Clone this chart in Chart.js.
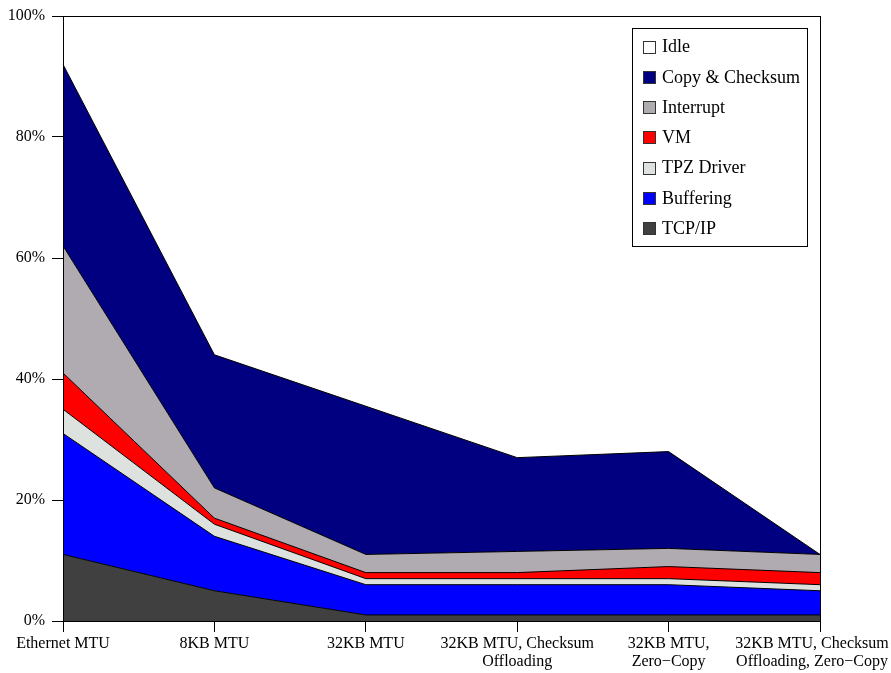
<!DOCTYPE html>
<html>
<head>
<meta charset="utf-8">
<script src="https://cdn.jsdelivr.net/npm/chart.js@4.4.1/dist/chart.umd.min.js"></script>
<style>
  html, body { margin: 0; padding: 0; background: #fff; }
  #wrap { width: 891px; height: 673px; }
</style>
</head>
<body>
<div id="wrap"><canvas id="chart" width="891" height="673"></canvas></div>
<script>
// configurations on the x axis (multi-line labels)
// last one gets trailing en-spaces so it stays inside the canvas like the original
const categories = [
  ["Ethernet MTU"],
  ["8KB MTU"],
  ["32KB MTU"],
  ["32KB MTU, Checksum", "Offloading"],
  ["32KB MTU,", "Zero\u2212Copy"],
  ["32KB MTU, Checksum\u2002\u2002", "Offloading, Zero\u2212Copy\u2002\u2002"],
];

// per-component CPU share (%), stacked bottom-up
const tcpIp = [11, 5, 1, 1, 1, 1];
const buffering = [20, 9, 5, 5, 5, 4];
const tpzDriver = [4, 2, 1, 1, 1, 1];
const vm = [6, 1, 1, 1, 2, 2];
const interrupt = [21, 5, 3, 3.5, 3, 3];
const copyChecksum = [30, 22, 24.5, 15.5, 16, 0];
const idle = [8, 56, 64.5, 73, 72, 89];

const yTicks = [0, 20, 40, 60, 80, 100];

const FONT = "'Liberation Serif', 'Times New Roman', serif";

function layer(label, data, color, fill) {
  return {
    label,
    data,
    backgroundColor: color,
    borderColor: "#000",
    borderWidth: 1,
    pointRadius: 0,
    tension: 0,
    fill,
  };
}

const datasets = [
  layer("TCP/IP", tcpIp, "#404040", "origin"),
  layer("Buffering", buffering, "#0000ff", "-1"),
  layer("TPZ Driver", tpzDriver, "#dde2df", "-1"),
  layer("VM", vm, "#ff0000", "-1"),
  layer("Interrupt", interrupt, "#b0abb0", "-1"),
  layer("Copy & Checksum", copyChecksum, "#000080", "-1"),
  layer("Idle", idle, "#ffffff", "-1"),
];

// frame around the plot + boxed legend in the top-right corner
const frameAndLegend = {
  id: "frameAndLegend",
  afterDraw(chart) {
    const { ctx, chartArea: a } = chart;
    ctx.save();
    ctx.strokeStyle = "#000";
    ctx.lineWidth = 1;
    ctx.strokeRect(Math.round(a.left) + 0.5, Math.round(a.top) + 0.5,
      Math.round(a.right - a.left), Math.round(a.bottom - a.top));

    const items = chart.data.datasets.slice().reverse();
    const boxRight = a.right - 13;
    const boxLeft = boxRight - 175;
    const boxTop = a.top + 12;
    const rowH = 30.3;
    ctx.fillStyle = "#fff";
    ctx.fillRect(boxLeft, boxTop, 175, 218);
    ctx.strokeRect(boxLeft + 0.5, boxTop + 0.5, 175, 218);

    ctx.font = "18px " + FONT;
    ctx.textBaseline = "middle";
    items.forEach((ds, i) => {
      const cy = boxTop + 18.5 + i * rowH;
      ctx.fillStyle = ds.backgroundColor;
      ctx.fillRect(boxLeft + 11.5, Math.round(cy - 6) + 0.5, 12, 12);
      ctx.strokeStyle = "#333";
      ctx.strokeRect(boxLeft + 11.5, Math.round(cy - 6) + 0.5, 12, 12);
      ctx.fillStyle = "#000";
      ctx.fillText(ds.label, boxLeft + 30, cy + 1);
    });
    ctx.restore();
  },
};

new Chart(document.getElementById("chart"), {
  type: "line",
  data: { labels: categories, datasets },
  plugins: [frameAndLegend],
  options: {
    responsive: false,
    animation: false,
    layout: { padding: { top: 16, right: 71, left: 0, bottom: 0 } },
    plugins: {
      legend: { display: false },
      tooltip: { enabled: false },
      filler: { propagate: false },
    },
    scales: {
      x: {
        offset: false,
        grid: { drawOnChartArea: false, drawTicks: true, tickLength: 11, color: "#000" },
        border: { display: true, color: "#000" },
        ticks: {
          color: "#000",
          padding: 3,
          maxRotation: 0,
          autoSkip: false,
          font: { family: FONT, size: 16, lineHeight: 1.1 },
        },
        afterFit(scale) {
          scale.height = 52;
          scale.paddingLeft = 0;
          scale.paddingRight = 0;
        },
      },
      y: {
        stacked: true,
        min: 0,
        max: 100,
        afterBuildTicks(scale) {
          scale.ticks = yTicks.map((v) => ({ value: v }));
        },
        grid: { drawOnChartArea: false, drawTicks: true, tickLength: 11, color: "#000" },
        border: { display: true, color: "#000" },
        ticks: {
          color: "#000",
          padding: 7,
          font: { family: FONT, size: 16 },
          callback: (v) => v + "%",
        },
        afterFit(scale) {
          scale.width = 63;
          scale.paddingTop = 0;
          scale.paddingBottom = 0;
        },
      },
    },
  },
});
</script>
</body>
</html>
